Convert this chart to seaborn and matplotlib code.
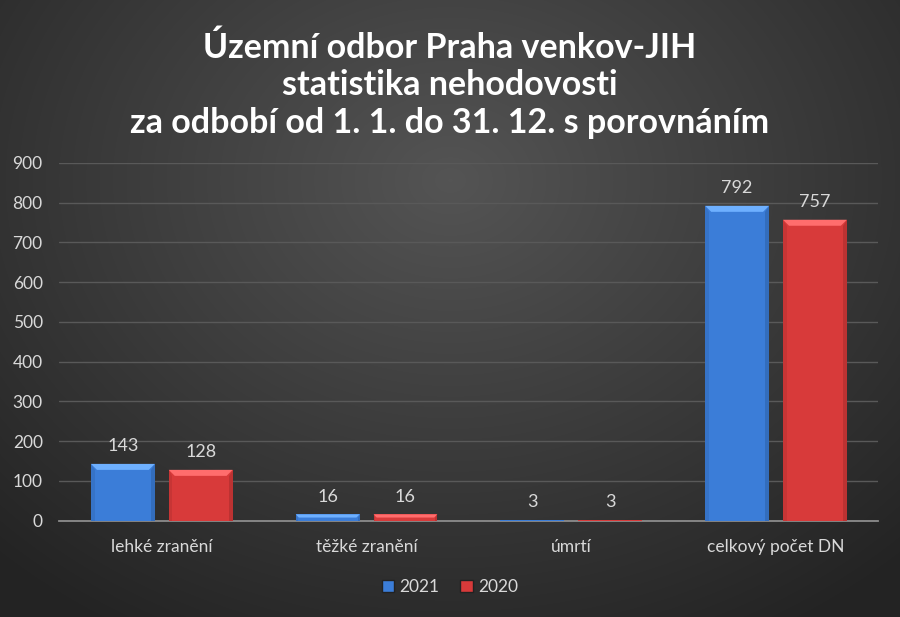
import numpy as np
import pandas as pd
import matplotlib
matplotlib.use('Agg')
import matplotlib.pyplot as plt
import matplotlib.colors as mcolors
from matplotlib.patches import Polygon
import seaborn as sns

categories = ['lehké zranění', 'těžké zranění', 'úmrtí', 'celkový počet DN']
values_2021 = [143, 16, 3, 792]
values_2020 = [128, 16, 3, 757]
years = ['2021', '2020']
colors = ['#3b7dd8', '#d83a3a']

df = pd.DataFrame({
    'kategorie': categories * 2,
    'rok': [years[0]] * 4 + [years[1]] * 4,
    'pocet': values_2021 + values_2020,
})

sns.set_style('white')
plt.rcParams['font.family'] = ['Lato', 'DejaVu Sans']

fig = plt.figure(figsize=(9, 6.17), dpi=100)

# pozadi - radialni gradient
bg = fig.add_axes([0, 0, 1, 1], zorder=-10)
yy, xx = np.mgrid[0:617, 0:900]
r = np.sqrt(((xx - 450) / 650) ** 2 + ((yy - 180) / 520) ** 2)
shade = np.clip(0.33 - 0.19 * r, 0.14, 0.33)
bg.imshow(np.dstack([shade] * 3), aspect='auto', extent=[0, 1, 0, 1])
bg.axis('off')

ax = fig.add_axes([0.066, 0.156, 0.91, 0.58])
ax.set_facecolor('none')

sns.barplot(data=df, x='kategorie', y='pocet', hue='rok', palette=colors,
            saturation=1, width=0.76, gap=0.18, ax=ax, edgecolor='none',
            linewidth=0, legend=False, zorder=3)

for cont in ax.containers:
    ax.bar_label(cont, padding=7, color='#d9d9d9', fontsize=13)

ax.set_ylim(0, 900)
ax.set_yticks(range(0, 901, 100))
ax.set_xlim(-0.5, 3.5)
ax.yaxis.grid(True, color='#595959', linewidth=1, zorder=0)
ax.set_axisbelow(True)
for s in ['top', 'right', 'left']:
    ax.spines[s].set_visible(False)
ax.spines['bottom'].set_color('#8c8c8c')
ax.spines['bottom'].set_linewidth(1.3)
ax.tick_params(axis='both', length=0, colors='#d9d9d9', labelsize=12.5)
ax.tick_params(axis='x', pad=13)
ax.tick_params(axis='y', pad=12)
ax.set_xlabel('')
ax.set_ylabel('')

# zkoseni hran sloupcu
fig.canvas.draw()
for p in ax.patches:
    (x0, y0), (x1, y1) = ax.transData.transform([[p.get_x(), 0],
                                                  [p.get_x() + p.get_width(), p.get_height()]])
    d = min(6, (y1 - y0) / 2)
    if d < 1:
        continue
    base = np.array(mcolors.to_rgb(p.get_facecolor()))
    light = np.clip(base + 0.2, 0, 1)
    dark = base * 0.75
    fig.add_artist(Polygon([[x0, y1], [x1, y1], [x1 - d, y1 - d], [x0 + d, y1 - d]],
                           closed=True, transform=None, facecolor=light,
                           edgecolor='none', zorder=4))
    fig.add_artist(Polygon([[x1, y1], [x1, y0], [x1 - d * 0.6, y0], [x1 - d * 0.6, y1 - d]],
                           closed=True, transform=None, facecolor=dark,
                           edgecolor='none', zorder=4, alpha=0.5))
    fig.add_artist(Polygon([[x0, y1], [x0, y0], [x0 + d * 0.6, y0], [x0 + d * 0.6, y1 - d]],
                           closed=True, transform=None, facecolor=dark,
                           edgecolor='none', zorder=4, alpha=0.3))

fig.text(0.5, 0.862,
         'Územní odbor Praha venkov-JIH\nstatistika nehodovosti\nza odbobí od 1. 1. do 31. 12. s porovnáním',
         ha='center', va='center', color='white', fontsize=24.5, fontweight='bold',
         linespacing=1.2)

handles = [plt.Rectangle((0, 0), 1, 1, facecolor=c, edgecolor='#222222') for c in colors]
fig.legend(handles, years, loc='center', bbox_to_anchor=(0.5, 0.048), ncol=2,
           frameon=False, fontsize=12.5, labelcolor='#d9d9d9', handlelength=0.7,
           handleheight=0.7, handletextpad=0.3, columnspacing=1.2)

plt.savefig('out.png', dpi=100)
